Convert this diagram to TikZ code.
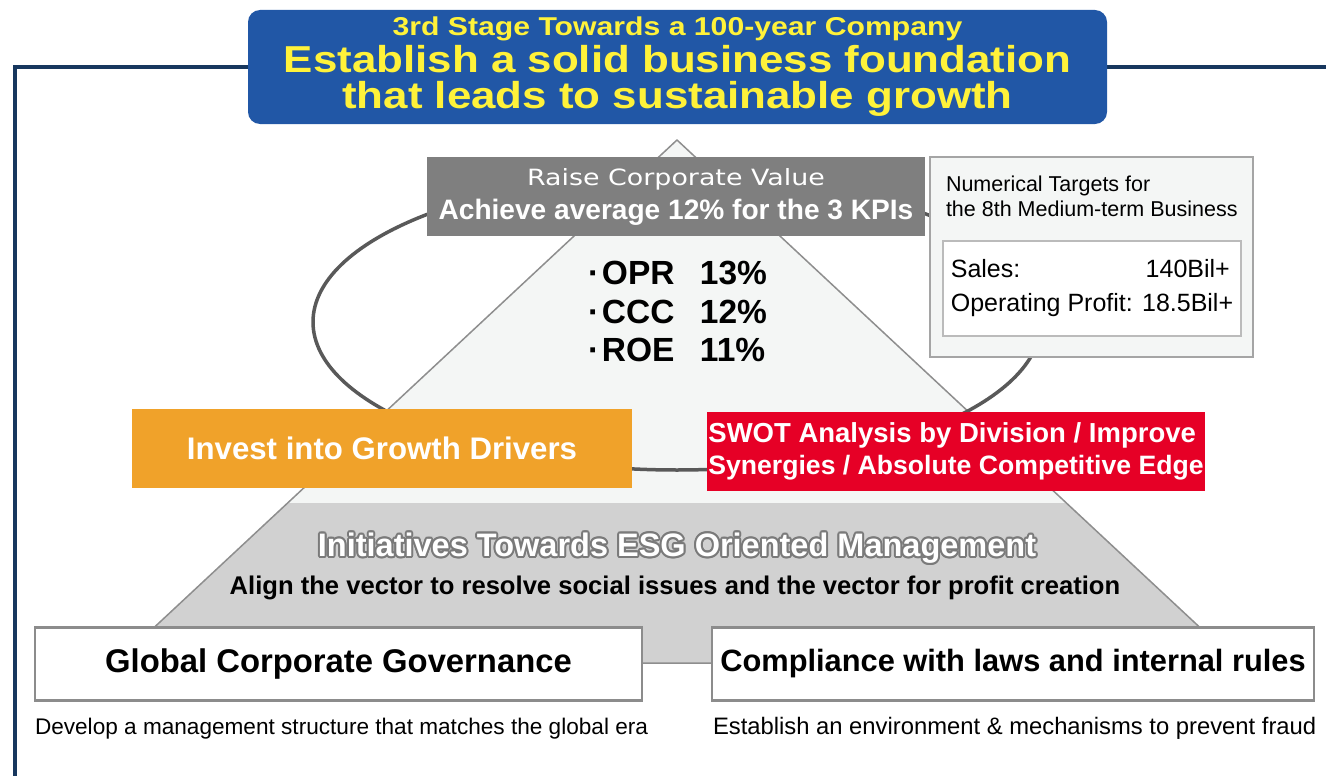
\documentclass[tikz,border=0pt]{standalone}
\usepackage{fontspec}
\setmainfont{Liberation Sans}
\newfontfamily\titlefont{Liberation Sans}[FakeStretch=1.17]
\newfontfamily\widefont{DejaVu Sans}[FakeStretch=1.2]
\usetikzlibrary{positioning}

\definecolor{frameblue}{HTML}{17375E}
\definecolor{titleblue}{HTML}{2157A6}
\definecolor{titleyellow}{HTML}{FFF23A}
\definecolor{kpigray}{HTML}{7F7F7F}
\definecolor{pyrfill}{HTML}{F4F6F5}
\definecolor{pyredge}{HTML}{8E8E8E}
\definecolor{esgband}{HTML}{D1D1D1}
\definecolor{esgrim}{HTML}{7A7A7A}
\definecolor{ringgray}{HTML}{595959}
\definecolor{growthorange}{HTML}{F0A22A}
\definecolor{swotred}{HTML}{E60026}
\definecolor{boxedge}{HTML}{8C8C8C}

\newcommand{\fs}[2]{\fontsize{#1}{#2}\selectfont}
\newcommand{\esgtext}{Initiatives Towards ESG Oriented Management}

\begin{document}
\begin{tikzpicture}[x=1pt,y=-1pt,
  every node/.style={inner sep=0pt,outer sep=0pt},
  frame/.style={draw=frameblue,line width=4pt},
  ring/.style={draw=ringgray,line width=3.5pt},
  titlebox/.style={fill=titleblue,rounded corners=12pt,minimum width=859pt,minimum height=114pt,
    text=titleyellow,align=center,font=\titlefont\bfseries\fs{37.5}{36.5}},
  kpibox/.style={fill=kpigray,minimum width=498pt,minimum height=79pt,text=white,align=center,font=\fs{28.1}{34}},
  targetbox/.style={fill=pyrfill,draw=pyredge!80,line width=1.8pt,minimum width=323pt,minimum height=200pt},
  salesbox/.style={fill=white,draw=pyredge!60,line width=1.3pt,minimum width=298pt,minimum height=95pt,
    align=left,font=\fs{25}{34}},
  growthbox/.style={fill=growthorange,minimum width=500pt,minimum height=79pt,text=white,font=\bfseries\fs{31.2}{36}},
  swotbox/.style={fill=swotred,minimum width=498pt,minimum height=79pt,text=white,align=left,font=\bfseries\fs{26.6}{32}},
  pillar/.style={fill=white,draw=boxedge,line width=2.5pt,minimum height=73pt},
  esghead/.style={font=\bfseries\fs{32.5}{36}},
  note/.style={anchor=base west,font=\fs{22.6}{26}}
]
\useasboundingbox (0,0) rectangle (1326,776);

% outer frame
\coordinate (ftr) at (1330,67);
\coordinate (fbl) at (14.5,780);
\draw[frame] (ftr) -| (fbl);

% pyramid with the ESG band
\coordinate (apex)  at (677,140);
\coordinate (baseL) at (116,663);
\coordinate (baseR) at (1238,663);
\fill[pyrfill] (apex) -- (baseL) -- (baseR) -- cycle;
\begin{scope}
  \clip (apex) -- (baseL) -- (baseR) -- cycle;
  \fill[esgband] (0,503) rectangle (1326,663);
\end{scope}
\draw[pyredge,line width=1.5pt,line join=round] (apex) -- (baseL) -- (baseR) -- cycle;

% cycle ring
\coordinate (ringc) at (677,322);
\draw[ring] (ringc) ellipse [x radius=364, y radius=148];

% title
\node[titlebox] (title) at (677.5,67)
  {{\fs{25.8}{36.5}3rd Stage Towards a 100-year Company}\\
   Establish a solid business foundation\\
   that leads to sustainable growth};

% corporate value and KPIs
\node[kpibox] (value) at (676,196.5)
  {{\widefont\fs{22.4}{34}Raise Corporate Value}\\
   {\bfseries Achieve average 12\% for the 3 KPIs}};
\node[anchor=west,align=left,font=\bfseries\fs{33.5}{38.5}] (kpis) at (588,311.5)
  {\makebox[14pt][l]{·}\makebox[98pt][l]{OPR}13\%\\
   \makebox[14pt][l]{·}\makebox[98pt][l]{CCC}12\%\\
   \makebox[14pt][l]{·}\makebox[98pt][l]{ROE}11\%};

% numerical targets
\node[targetbox] (target) at (1091.5,257) {};
\node[anchor=west,align=left,font=\fs{21.5}{25}] (targethead) at (946,196.7)
  {Numerical Targets for\\the 8th Medium-term Business};
\node[salesbox] (sales) at (1092,288.5)
  {\makebox[279pt][l]{Sales:\hfill 140Bil+}\\Operating Profit: 18.5Bil+};

% growth drivers and SWOT
\node[growthbox] (growth) at (382,448) {Invest into Growth Drivers};
\node[swotbox] (swot) at (956,451)
  {{\fs{27.5}{32}SWOT Analysis by Division / Improve}\\Synergies / Absolute Competitive Edge};

% ESG band texts
\foreach \ang in {0,30,...,330}
  \path (677,548) ++(\ang:2) node[esghead,text=esgrim] {\esgtext};
\node[esghead,text=white] (esg) at (677,548) {\esgtext};
\node[font=\bfseries\fs{25.6}{30}] (align) at (675,588)
  {Align the vector to resolve social issues and the vector for profit creation};

% two pillars
\node[pillar,minimum width=607pt,font=\bfseries\fs{32.8}{36}] (gcg) at (338.5,664)
  {Global Corporate Governance};
\node[pillar,minimum width=602pt,font=\bfseries\fs{30.8}{36}] (comply) at (1013,664)
  {Compliance with laws and internal rules};
\node[note] (gcgnote) at (35,734)
  {Develop a management structure that matches the global era};
\node[note,font=\fs{23.8}{26}] (complynote) at (713,734)
  {Establish an environment \& mechanisms to prevent fraud};
\end{tikzpicture}
\end{document}
